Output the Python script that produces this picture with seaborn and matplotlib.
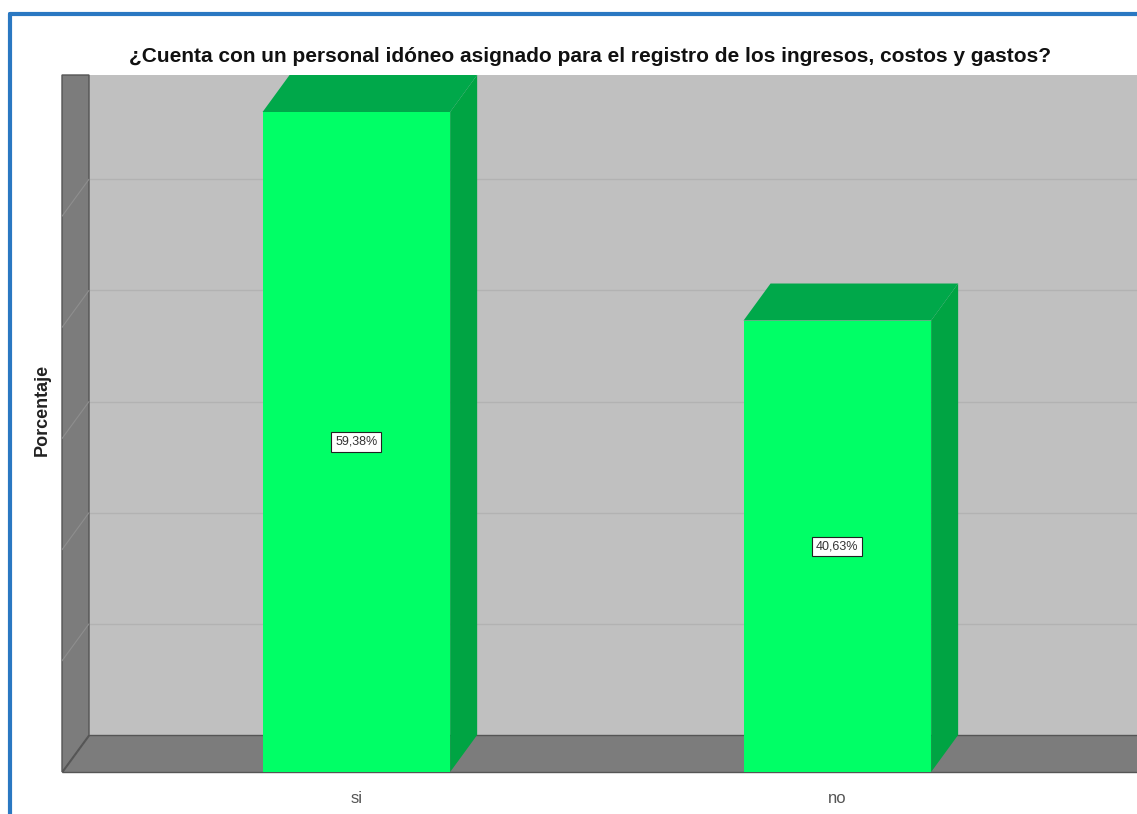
import numpy as np
import matplotlib.pyplot as plt
import seaborn as sns
from matplotlib.patches import Polygon, Rectangle
from matplotlib.lines import Line2D

categories = ['si', 'no']
percentages = [59.38, 40.62]
value_labels = ['59,38%', '40,63%']
title = '¿Cuenta con un personal idóneo asignado para el registro de los ingresos, costos y gastos?'

sns.set_style('white')
plt.rcParams['font.family'] = ['Liberation Sans', 'DejaVu Sans']

fig = plt.figure(figsize=(11.37, 8.14), dpi=100)
W, H = 1137, 814
# front plane of the 3d box
ax = fig.add_axes([62 / W, 42 / H, (W - 62) / W, 660 / H])
ax.set_facecolor('none')

sns.barplot(x=categories, y=percentages, color='#00ff66', saturation=1,
            width=0.39, ax=ax, zorder=5, linewidth=0)
ax.set_xlim(-0.612, 1.623)
ax.set_ylim(0, max(percentages))

# depth of the box in data units (27 px right, 37 px up)
fig.canvas.draw()
inv = ax.transData.inverted()
p0 = ax.transData.transform((0, 0))
dx, dy = inv.transform(p0 + np.array([27, 37])) - np.array([0, 0])
xmin, xmax = ax.get_xlim()
ymax = ax.get_ylim()[1]

# back wall with gridlines
ax.add_patch(Rectangle((xmin + dx, dy), (xmax - xmin) + dx, ymax, facecolor='#c0c0c0',
                       edgecolor='none', zorder=0, clip_on=False))
for g in np.arange(10, 60, 10):
    ax.plot([xmin + dx, xmax + dx], [g + dy, g + dy], color='#b2b2b2', lw=1, zorder=1, clip_on=False)
    ax.plot([xmin, xmin + dx], [g, g + dy], color='#8e8e8e', lw=0.8, zorder=3, clip_on=False)

# left wall
ax.add_patch(Polygon([(xmin, 0), (xmin + dx, dy), (xmin + dx, ymax + dy), (xmin, ymax + dy)],
                     closed=True, facecolor='#7c7c7c', edgecolor='#555555', lw=1, zorder=2, clip_on=False))
# floor
ax.add_patch(Polygon([(xmin, 0), (xmax + dx, 0), (xmax + dx, dy), (xmin + dx, dy)],
                     closed=True, facecolor='#7c7c7c', edgecolor='#555555', lw=1, zorder=2, clip_on=False))

# side and top faces of the bars
for bar, lab in zip(ax.patches, value_labels):
    if not isinstance(bar, Rectangle) or bar.get_height() <= 0 or bar.get_zorder() != 5:
        continue
    x0 = bar.get_x()
    x1 = x0 + bar.get_width()
    h = bar.get_height()
    ax.add_patch(Polygon([(x1, 0), (x1 + dx, dy), (x1 + dx, h + dy), (x1, h)], closed=True,
                         facecolor='#00a443', edgecolor='none', zorder=4, clip_on=False))
    ax.add_patch(Polygon([(x0, h), (x1, h), (x1 + dx, h + dy), (x0 + dx, h + dy)], closed=True,
                         facecolor='#00a84a', edgecolor='none', zorder=4, clip_on=False))
    ax.text(x0 + bar.get_width() / 2, h / 2, lab, ha='center', va='center', fontsize=9,
            color='#333333', zorder=6,
            bbox=dict(boxstyle='square,pad=0.3', facecolor='white', edgecolor='#222222', lw=0.8))

sns.despine(ax=ax, left=True, bottom=True)
ax.set_yticks([])
ax.set_xlabel('')
ax.set_ylabel('')
ax.tick_params(axis='x', length=0, pad=14, labelsize=12, labelcolor='#555555')

fig.text(590 / W, 1 - 57 / H, title, ha='center', va='center', fontsize=15, fontweight='bold',
         color='#111111')
fig.text(42 / W, 1 - 410 / H, 'Porcentaje', ha='center', va='center', rotation=90,
         fontsize=13, fontweight='bold', color='#222222')

# blue frame
fig.add_artist(Line2D([10 / W, 10 / W], [0, 1 - 14 / H], color='#2a78c2', lw=3))
fig.add_artist(Line2D([10 / W, 1], [1 - 14 / H, 1 - 14 / H], color='#2a78c2', lw=3))

fig.savefig('out.png', dpi=100)
